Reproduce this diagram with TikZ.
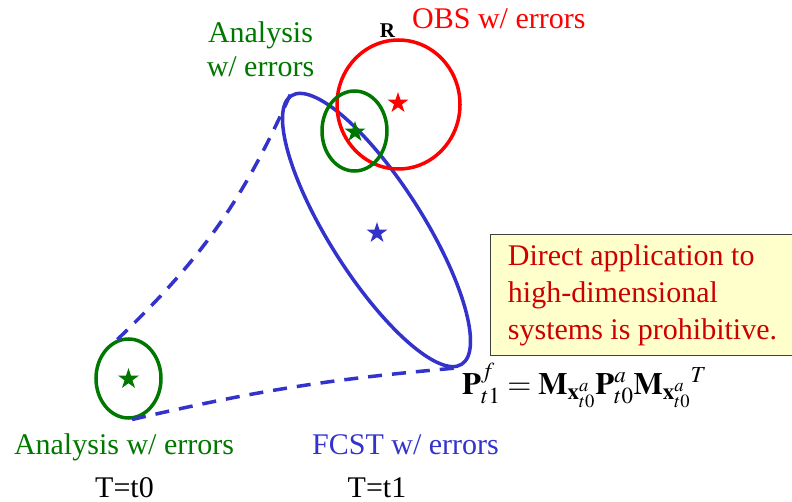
\documentclass[tikz,border=0pt]{standalone}
\usepackage{mathptmx}
\usepackage{fontspec}
\setmainfont{Liberation Serif}
\newfontfamily\boldlbl{Liberation Serif Bold}
\usetikzlibrary{shapes.geometric}
\definecolor{fcstblue}{RGB}{51,51,204}
\definecolor{anagreen}{RGB}{0,120,0}
\definecolor{obsred}{RGB}{255,0,0}
\definecolor{notered}{RGB}{204,0,0}
\definecolor{notefill}{RGB}{255,255,204}

\begin{document}
\begin{tikzpicture}[x=1pt, y=1pt,
    errell/.style={ellipse, draw, line width=3.5pt, inner sep=0pt},
    starmark/.style={star, star points=5, star point ratio=2.6, minimum size=22pt, inner sep=0pt},
    fcstdash/.style={draw=fcstblue, line width=3.5pt, dash pattern=on 14pt off 10pt},
    lbl/.style={inner sep=0pt, font=\fontsize{30}{34}\selectfont}]

  \useasboundingbox (0,0) rectangle (792,-502);

  % Error ellipses
  \node[errell, draw=fcstblue, minimum width=318pt, minimum height=94pt, rotate=-57.6] (fcst) at (376.5,-230) {};
  \node[errell, draw=obsred, minimum width=123pt, minimum height=129pt] (obs) at (398.5,-104.5) {};
  \node[errell, draw=anagreen, minimum width=65pt, minimum height=80pt] (ana1) at (354.5,-131) {};
  \node[errell, draw=anagreen, minimum width=65pt, minimum height=79pt] (ana0) at (128.5,-378.5) {};

  % Stars
  \node[starmark, fill=anagreen] (s0) at (128.5,-379) {};
  \node[starmark, fill=anagreen] (s1) at (355,-132) {};
  \node[starmark, fill=obsred] (sobs) at (398,-103) {};
  \node[starmark, fill=fcstblue] (sfcst) at (377,-233) {};

  % Forecast spread
  \draw[fcstdash] (ana0.106) to[bend right=11] (fcst.west);
  \draw[fcstdash] (ana0.-85) to[bend left=4] (fcst.-3);

  % Labels
  \node[lbl, text=anagreen, align=center, anchor=north] (ana1lbl) at (260.5,-21) {Analysis\\w/ errors};
  \node[lbl, font=\boldlbl\fontsize{21}{24}\selectfont, anchor=base] (rlbl) at (387.5,-38) {R};
  \node[lbl, text=obsred, anchor=base west] (obslbl) at (412,-29) {OBS w/ errors};
  \node[lbl, text=anagreen, anchor=base] (ana0lbl) at (124,-454) {Analysis w/ errors};
  \node[lbl, text=fcstblue, anchor=base] (fcstlbl) at (405.5,-454) {FCST w/ errors};
  \node[lbl, anchor=base] (t0lbl) at (124.5,-497) {T=t0};
  \node[lbl, anchor=base] (t1lbl) at (377,-497) {T=t1};

  % Note and formula
  \node[draw=black!75, line width=1pt, fill=notefill, text=notered, align=left, anchor=north west,
        inner xsep=10pt, inner ysep=10pt, minimum width=304pt, minimum height=121pt,
        font=\fontsize{30}{37}\selectfont] (note) at (490,-234)
        {Direct application to\\high-dimensional\\systems is prohibitive.};
  \node[lbl, font=\fontsize{31}{34}\selectfont, anchor=base west] (cov) at (462,-394)
        {$\mathbf{P}_{t1}^{f} = \mathbf{M}_{\mathbf{x}_{t0}^{a}}\mathbf{P}_{t0}^{a}\mathbf{M}_{\mathbf{x}_{t0}^{a}}{}^{T}$};
\end{tikzpicture}
\end{document}
